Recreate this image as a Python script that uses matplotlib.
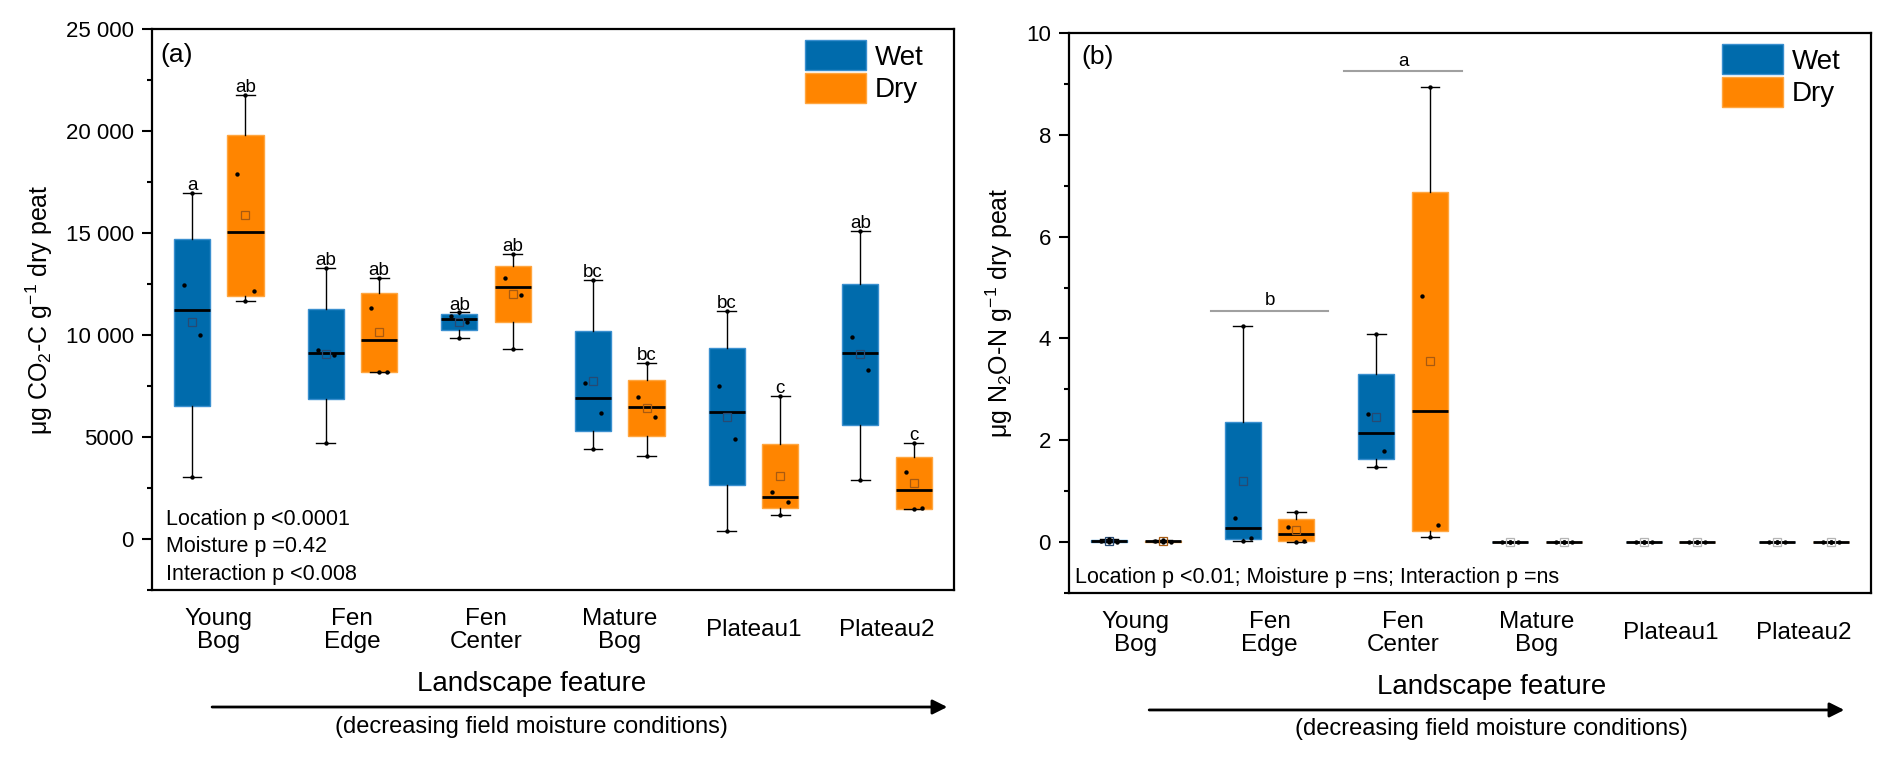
import numpy as np
import matplotlib
matplotlib.use("Agg")
import matplotlib.pyplot as plt
from matplotlib.patches import Patch
from matplotlib.ticker import FuncFormatter, MultipleLocator

plt.rcParams['font.family'] = ['Liberation Sans', 'DejaVu Sans']
plt.rcParams['mathtext.fontset'] = 'custom'
plt.rcParams['mathtext.rm'] = 'Liberation Sans'
plt.rcParams['mathtext.it'] = 'Liberation Sans:italic'
plt.rcParams['mathtext.default'] = 'regular'

# ---------------------------------------------------------------- data
sites = ['Young\nBog', 'Fen\nEdge', 'Fen\nCenter', 'Mature\nBog', 'Plateau1', 'Plateau2']

# CO2-C (ug g-1 dry peat), 4 replicates per site
co2_wet = [[16960, 12450, 10000, 3040],
           [13280, 9260, 9020, 4700],
           [11110, 10950, 10650, 9870],
           [12700, 7650, 6170, 4410],
           [11180, 7500, 4900, 390],
           [15100, 9900, 8300, 2900]]
co2_dry = [[21765, 17890, 12160, 11670],
           [12800, 11320, 8200, 8200],
           [13970, 12790, 11960, 9310],
           [8630, 6960, 5990, 4070],
           [7010, 2290, 1810, 1190],
           [4700, 3300, 1500, 1450]]
co2_letters_wet = ['a', 'ab', 'ab', 'bc', 'bc', 'ab']
co2_letters_dry = ['ab', 'ab', 'ab', 'bc', 'c', 'c']
co2_stats = ['Location p <0.0001', 'Moisture p =0.42', 'Interaction p <0.008']

# N2O-N (ug g-1 dry peat)
n2o_wet = [[0.06, 0.03, 0.01, 0.0],
           [4.24, 0.47, 0.08, 0.03],
           [4.08, 2.51, 1.78, 1.48],
           [0.0, 0.0, 0.0, 0.0],
           [0.0, 0.0, 0.0, 0.0],
           [0.0, 0.0, 0.0, 0.0]]
n2o_dry = [[0.04, 0.02, 0.01, 0.0],
           [0.60, 0.30, 0.03, 0.0],
           [8.94, 4.83, 0.33, 0.10],
           [0.0, 0.0, 0.0, 0.0],
           [0.0, 0.0, 0.0, 0.0],
           [0.0, 0.0, 0.0, 0.0]]
n2o_groups = [('b', 1, 4.54), ('a', 2, 9.25)]   # letter, site index, bar height
n2o_stats = 'Location p <0.01; Moisture p =ns; Interaction p =ns'

WET, DRY = '#006BAC', '#FF8500'
WET_EDGE, DRY_EDGE = '#3a8fcf', '#ffa640'
WET_MEAN, DRY_MEAN = '#274a73', '#a85a10'


def tukey(v):
    """box stats with Tukey hinges (min/max whiskers)"""
    s = sorted(v)
    h = len(s) // 2
    lo = s[:h] if len(s) % 2 == 0 else s[:h + 1]
    hi = s[h:]
    return dict(med=np.median(s), q1=np.median(lo), q3=np.median(hi),
                whislo=s[0], whishi=s[-1], mean=np.mean(s), fliers=[])


def draw_boxes(ax, data, offset, color, edge, meancol):
    pos = np.arange(len(data)) + offset
    stats = [tukey(v) for v in data]
    ax.bxp(stats, positions=pos, widths=0.27, patch_artist=True, showfliers=False,
           capwidths=0.14, manage_ticks=False,
           boxprops=dict(facecolor=color, edgecolor=edge, lw=1),
           medianprops=dict(color='k', lw=2),
           whiskerprops=dict(color='k', lw=1),
           capprops=dict(color='k', lw=1))
    jit = np.array([0.0, -0.06, 0.06, 0.0])
    for p, v, st in zip(pos, data, stats):
        vals = sorted(v, reverse=True)
        ax.scatter(p + jit[:len(vals)], vals, s=10, color='k', zorder=4, lw=0)
        mc = meancol if st['q3'] > st['q1'] else '#b5b5b5'
        ax.plot(p, st['mean'], 's', ms=6, mfc='none', mec=mc, mew=0.9, zorder=3)
    return pos, stats


def style_axis(ax, ylim, major, minor):
    ax.set_xlim(-0.5, 5.5)
    ax.set_ylim(*ylim)
    for sp in ax.spines.values():
        sp.set_linewidth(1.6)
    ax.yaxis.set_major_locator(MultipleLocator(major))
    ax.yaxis.set_minor_locator(MultipleLocator(minor))
    ax.tick_params(axis='y', which='major', length=7, width=1.5, labelsize=16, pad=6)
    ax.tick_params(axis='y', which='minor', length=3.5, width=1.5)
    ax.set_xticks(range(len(sites)))
    ax.set_xticklabels(sites, va='center', linespacing=1.05)
    ax.tick_params(axis='x', length=0, labelsize=17.5, pad=29)
    leg = ax.legend(handles=[Patch(facecolor=WET, edgecolor=WET_EDGE, label='Wet'),
                             Patch(facecolor=DRY, edgecolor=DRY_EDGE, label='Dry')],
                    loc='upper right', bbox_to_anchor=(0.962, 0.98), frameon=False,
                    fontsize=20, handlelength=2.2, handleheight=1.3,
                    handletextpad=0.3, labelspacing=0.08, borderpad=0, borderaxespad=0)
    return leg


def bottom_text(fig, ax, xc, y0, a0, a1):
    ax.annotate('Landscape feature', (xc, y0), xycoords=('data', 'figure fraction'),
                ha='center', va='center', fontsize=20, annotation_clip=False)
    ax.annotate('', xy=(a1, y0 - 0.0303), xytext=(a0, y0 - 0.0303),
                xycoords=('data', 'figure fraction'), textcoords=('data', 'figure fraction'),
                arrowprops=dict(arrowstyle='-|>', lw=2, color='k', mutation_scale=22,
                                shrinkA=0, shrinkB=0),
                annotation_clip=False)
    ax.annotate('(decreasing field moisture conditions)', (xc, y0 - 0.056),
                xycoords=('data', 'figure fraction'), ha='center', va='center',
                fontsize=17, annotation_clip=False)


fig = plt.figure(figsize=(18.92, 7.59), dpi=100)
ax1 = fig.add_axes([0.0803, 0.2227, 0.4239, 0.7391])
ax2 = fig.add_axes([0.5650, 0.2187, 0.4239, 0.7378])

# ---------------------------------------------------------------- (a) CO2
draw_boxes(ax1, co2_wet, -0.2, WET, WET_EDGE, WET_MEAN)
draw_boxes(ax1, co2_dry, 0.2, DRY, DRY_EDGE, DRY_MEAN)
style_axis(ax1, (-2500, 25000), 5000, 2500)
ax1.yaxis.set_major_formatter(FuncFormatter(
    lambda v, _: '{:,}'.format(int(v)).replace(',', ' ') if abs(v) >= 10000 else str(int(v))))
ax1.set_ylabel('μg CO$_2$-C g$^{-1}$ dry peat', fontsize=18, labelpad=8)

for off, data, letters in [(-0.2, co2_wet, co2_letters_wet), (0.2, co2_dry, co2_letters_dry)]:
    for i, (v, lt) in enumerate(zip(data, letters)):
        ax1.annotate(lt, (i + off, max(v)), xytext=(0, 2), textcoords='offset points',
                     ha='center', va='baseline', fontsize=13.5)

for txt, yb in zip(co2_stats, [686, -637, -2010]):
    ax1.text(0.0175, yb, txt, transform=ax1.get_yaxis_transform(),
             ha='left', va='baseline', fontsize=15.5)
ax1.text(0.01, 0.975, '(a)', transform=ax1.transAxes, ha='left', va='top', fontsize=19)
bottom_text(fig, ax1, 2.34, 0.0988, -0.05, 5.45)

# ---------------------------------------------------------------- (b) N2O
draw_boxes(ax2, n2o_wet, -0.2, WET, WET_EDGE, WET_MEAN)
draw_boxes(ax2, n2o_dry, 0.2, DRY, DRY_EDGE, DRY_MEAN)
style_axis(ax2, (-1, 10), 2, 1)
ax2.set_ylabel('μg N$_2$O-N g$^{-1}$ dry peat', fontsize=18, labelpad=8)

for lt, i, h in n2o_groups:
    ax2.plot([i - 0.44, i + 0.44], [h, h], color='#a0a0a0', lw=1.5)
    ax2.annotate(lt, (i, h), xytext=(0, 4), textcoords='offset points',
                 ha='center', va='baseline', fontsize=13.5)

ax2.text(0.0075, -0.81, n2o_stats, transform=ax2.get_yaxis_transform(),
         ha='left', va='baseline', fontsize=15.5)
ax2.text(0.016, 0.979, '(b)', transform=ax2.transAxes, ha='left', va='top', fontsize=19)
bottom_text(fig, ax2, 2.66, 0.0949, 0.1, 5.3)

fig.savefig('out.png', dpi=100)
